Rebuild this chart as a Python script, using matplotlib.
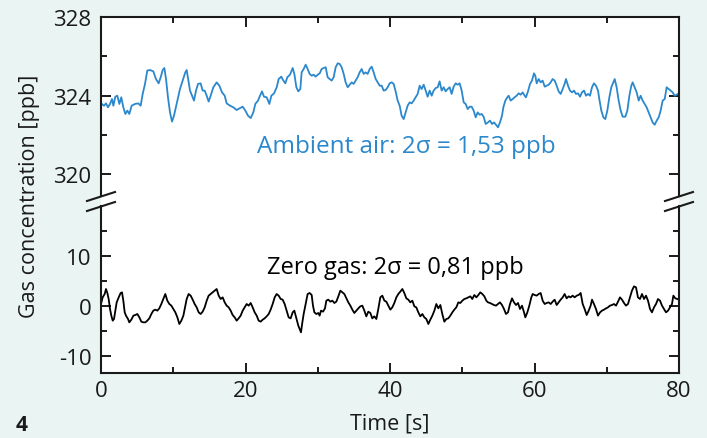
import matplotlib
matplotlib.use("Agg")
import matplotlib.pyplot as plt
from matplotlib.lines import Line2D
from matplotlib.patches import Rectangle

plt.rcParams["font.family"] = ["Open Sans", "DejaVu Sans"]
plt.rcParams["axes.unicode_minus"] = False

# ---- data ----------------------------------------------------------------
ambient_t = [
    0.1, 0.42, 0.69, 0.97, 1.25, 1.52, 1.71, 1.98, 2.26, 2.54, 2.81, 3.09, 3.37, 3.65, 3.92, 4.24, 4.71, 5.17, 5.49, 5.77,
    6.09, 6.41, 6.78, 7.24, 7.61, 7.98, 8.26, 8.54, 8.77, 9.0, 9.27, 9.55, 9.83, 10.1, 10.47, 10.93, 11.3, 11.67, 11.86, 12.09,
    12.32, 12.6, 12.87, 13.15, 13.43, 13.79, 14.07, 14.35, 14.63, 14.9, 15.18, 15.55, 16.01, 16.38, 16.75, 17.12, 17.39, 17.86, 18.32, 18.78,
    19.24, 19.61, 19.98, 20.35, 20.72, 21.08, 21.36, 21.73, 22.01, 22.28, 22.56, 22.93, 23.3, 23.58, 23.95, 24.32, 24.59, 24.96, 25.24, 25.51,
    25.79, 26.16, 26.53,
    26.76, 27.04, 27.31, 27.59, 27.77, 28.05, 28.33, 28.6, 28.88, 29.16, 29.43, 29.71, 29.99, 30.27, 30.54, 30.82, 31.1, 31.37, 31.65, 31.93,
    32.2, 32.48, 32.76, 33.03, 33.31, 33.59, 33.86, 34.14, 34.42, 34.69, 34.97, 35.25, 35.52, 35.8, 36.08, 36.36, 36.63, 36.91, 37.19, 37.46,
    37.74, 38.02, 38.29, 38.57, 38.85, 39.12, 39.4, 39.68, 39.95, 40.23, 40.51, 40.78, 41.06, 41.34, 41.61, 41.89, 42.17, 42.44, 42.72, 43.0,
    43.27, 43.55, 43.83, 44.11, 44.38, 44.66, 44.94, 45.21, 45.49, 45.77, 46.04, 46.32, 46.6, 46.87, 47.15, 47.43, 47.7, 47.98, 48.26, 48.53,
    48.81, 49.09, 49.37, 49.64, 49.92, 50.2, 50.47, 50.75, 51.03, 51.3, 51.58, 51.86, 52.13, 52.41, 52.69, 52.96, 53.24,
    53.56, 53.84, 54.12, 54.39, 54.67, 54.95, 55.22, 55.5, 55.69, 55.96, 56.24, 56.42, 56.7, 56.98, 57.25, 57.53, 57.81, 58.09, 58.36, 58.64,
    58.82, 59.1, 59.38, 59.65, 59.93, 60.11, 60.3, 60.58, 60.85, 61.13, 61.41, 61.68, 61.96, 62.24, 62.51, 62.79, 63.07, 63.34, 63.62, 63.9,
    64.17, 64.36, 64.64, 64.91, 65.19, 65.47, 65.74, 66.02, 66.3, 66.57, 66.85, 67.13, 67.4, 67.68, 67.96, 68.23, 68.51, 68.79, 68.97, 69.25,
    69.53, 69.8, 70.08, 70.36, 70.63, 70.91, 71.1, 71.37, 71.65, 71.93, 72.2, 72.57, 72.85, 73.13, 73.4, 73.59, 73.86, 74.14, 74.42, 74.69,
    74.97, 75.25, 75.52, 75.8, 76.08, 76.35, 76.63, 76.91, 77.19, 77.46, 77.74, 78.02, 78.29, 78.57, 78.85, 79.12, 79.4, 79.68, 79.95,
]
ambient_ppb = [
    323.57, 323.48, 323.60, 323.40, 323.57, 323.82, 323.48, 323.94, 323.99, 323.57, 323.91, 323.40, 323.06, 323.23, 323.06, 323.48, 323.57, 323.60, 323.48, 324.08,
    324.59, 325.27, 325.30, 325.23, 324.84, 324.62, 324.93, 325.30, 325.40, 324.84, 323.91, 323.14, 322.67, 322.97, 323.57, 324.33, 324.76, 325.18, 325.30, 324.76,
    324.25, 323.99, 323.74, 324.25, 324.59, 324.62, 324.25, 324.25, 323.99, 323.69, 323.99, 324.42, 324.67, 324.50, 324.16, 323.99, 323.60, 323.48, 323.40, 323.26,
    323.36, 323.43, 323.23, 322.97, 322.85, 323.14, 323.57, 323.74, 323.99, 324.21, 323.94, 323.91, 323.57, 323.99, 324.11, 324.42, 324.84, 324.96, 324.76, 324.62,
    324.93, 325.06, 325.40,
    325.10, 324.42, 324.21, 324.33, 325.18, 325.35, 325.57, 325.35, 325.10, 325.01, 325.06, 324.96, 325.06, 325.13, 325.35, 325.40, 325.44, 324.93, 324.84, 324.76,
    324.93, 325.44, 325.64, 325.61, 325.44, 325.10, 324.67, 324.42, 324.55, 324.67, 324.59, 324.76, 324.93, 325.18, 325.35, 325.10, 325.18, 325.10, 325.35, 325.47,
    325.18, 324.84, 324.67, 324.50, 324.50, 324.25, 324.28, 324.42, 324.62, 324.67, 324.59, 324.21, 323.74, 323.48, 322.97, 322.80, 323.14, 323.48, 323.65, 323.60,
    323.74, 323.91, 324.08, 324.50, 324.33, 324.55, 324.25, 323.94, 324.25, 323.99, 324.25, 324.38, 324.42, 324.72, 324.25, 324.42, 324.21, 324.33, 324.42, 324.08,
    324.45, 324.62, 324.55, 324.62, 324.25, 323.65, 323.57, 323.31, 323.43, 323.43, 323.23, 322.89, 323.14, 323.02, 323.06, 322.92, 322.55,
    322.63, 322.72, 322.55, 322.63, 322.51, 322.38, 322.63, 322.97, 323.40, 323.74, 323.91, 323.99, 323.74, 323.82, 323.91, 323.99, 324.11, 324.04, 324.16, 323.99,
    323.91, 324.21, 324.59, 324.76, 325.13, 325.01, 324.62, 324.84, 324.67, 324.76, 324.45, 324.50, 324.55, 324.67, 324.84, 324.76, 324.50, 324.21, 324.08, 324.33,
    324.59, 324.84, 324.50, 324.25, 324.16, 324.25, 324.08, 324.11, 323.94, 324.16, 324.25, 323.99, 324.08, 323.99, 324.42, 324.62, 324.50, 324.25, 323.82, 323.23,
    322.89, 322.80, 323.23, 323.91, 324.42, 324.67, 324.84, 324.42, 323.74, 323.23, 322.92, 322.92, 323.23, 323.99, 324.50, 324.67, 324.42, 324.16, 323.74, 323.99,
    323.74, 323.57, 323.40, 323.14, 322.89, 322.63, 322.51, 322.72, 322.89, 323.23, 323.74, 323.82, 324.42, 324.33, 324.25, 324.16, 323.99, 324.04, 324.11,
]

zero_t = [
    0.0, 0.23, 0.51, 0.69, 0.88, 1.06, 1.25, 1.43, 1.62, 1.8, 1.98, 2.17, 2.45, 2.72, 2.91, 3.09, 3.28, 3.46, 3.74, 3.92,
    4.2, 4.48, 4.75, 5.03, 5.31, 5.58, 5.86, 6.14, 6.41, 6.69, 6.97, 7.24, 7.52, 7.8, 8.07, 8.35, 8.63, 8.9, 9.18, 9.46,
    9.74, 10.01, 10.29, 10.57, 10.84, 11.12, 11.4, 11.67, 11.86, 12.13, 12.41, 12.69, 12.96, 13.24, 13.52, 13.79, 14.07, 14.35, 14.63, 14.9,
    15.18, 15.46, 15.73, 16.01, 16.29, 16.56, 16.84, 17.12, 17.39, 17.67, 17.95, 18.22, 18.5, 18.78, 19.05, 19.33, 19.61, 19.89, 20.16, 20.44,
    20.72, 20.99, 21.27, 21.55, 21.82, 22.1, 22.38, 22.65, 22.93, 23.21, 23.48, 23.76, 24.04, 24.31, 24.59, 24.87, 25.14, 25.42, 25.7, 25.97,
    26.25, 26.53,
    26.76, 26.94, 27.13, 27.31, 27.5, 27.68, 27.87, 28.05, 28.33, 28.6, 28.88, 29.16, 29.34, 29.53, 29.8, 30.08, 30.26, 30.45, 30.73, 31.0,
    31.19, 31.46, 31.74, 32.02, 32.3, 32.57, 32.85, 33.13, 33.4, 33.68, 33.96, 34.23, 34.51, 34.79, 35.06, 35.34, 35.62, 35.89, 36.17, 36.45,
    36.72, 37.0, 37.28, 37.55, 37.83, 38.11, 38.38, 38.66, 38.94, 39.22, 39.49, 39.77, 40.05, 40.32, 40.6, 40.88, 41.15, 41.43, 41.71, 41.98,
    42.26, 42.54, 42.81, 43.09, 43.37, 43.64, 43.92, 44.2, 44.48, 44.75, 45.03, 45.31, 45.58, 45.86, 46.14, 46.41, 46.69, 46.97, 47.24, 47.52,
    47.8, 48.07, 48.35, 48.63, 48.9, 49.18, 49.46, 49.73, 50.01, 50.29, 50.56, 50.84, 51.12, 51.39, 51.67, 51.95, 52.23, 52.5, 52.78, 53.06,
    53.33,
    53.56, 53.84, 54.12, 54.39, 54.67, 54.95, 55.22, 55.5, 55.78, 56.05, 56.33, 56.61, 56.89, 57.16, 57.44, 57.72, 57.99, 58.27, 58.55, 58.73,
    59.01, 59.28, 59.56, 59.75, 60.02, 60.3, 60.58, 60.85, 61.13, 61.41, 61.68, 61.96, 62.24, 62.51, 62.79, 63.07, 63.34, 63.62, 63.9, 64.17,
    64.45, 64.73, 65.0, 65.28, 65.56, 65.84, 66.11, 66.39, 66.67, 66.94, 67.22, 67.5, 67.77, 67.96, 68.23, 68.51, 68.79, 69.07, 69.34, 69.62,
    69.9, 70.17, 70.45, 70.73, 71.0, 71.28, 71.56, 71.83, 72.11, 72.39, 72.66, 72.94, 73.22, 73.49, 73.77, 74.05, 74.32, 74.6, 74.88, 75.16,
    75.43, 75.71, 75.99, 76.26, 76.54, 76.82, 77.09, 77.37, 77.65, 77.92, 78.2, 78.48, 78.75, 79.03, 79.22, 79.49, 79.77,
]
zero_ppb = [
    0.4, 1.73, 2.4, 3.4, 2.6, 1.4, -0.6, -1.93, -2.93, -2.6, -0.93, 0.73, 1.73, 2.6, 2.73, 1.07, -1.27, -1.93, -2.6, -3.27,
    -2.73, -1.93, -1.8, -1.6, -2.27, -3.13, -3.27, -3.27, -2.93, -2.47, -1.6, -0.93, -0.73, -0.93, -0.47, 0.4, 1.4, 2.4, 1.07, 0.4,
    0.07, -0.6, -1.27, -2.27, -3.6, -2.93, -1.93, 0.07, 1.4, 2.4, 2.07, 1.27, 0.4, -0.27, -1.27, -1.6, -1.13, -0.27, 1.07, 2.07,
    2.4, 2.73, 3.07, 3.4, 2.07, 1.4, 1.73, 0.73, 0.07, -0.27, -0.93, -1.8, -2.27, -2.93, -2.47, -1.93, -0.93, -0.27, 0.4, 0.07,
    0.6, -0.27, -1.27, -1.93, -2.93, -3.13, -2.73, -2.47, -2.07, -1.6, -0.73, 0.4, 1.73, 2.4, 2.07, 1.4, 1.27, 0.4, -0.93, -2.27,
    -2.47, -1.27,
    -0.93, -1.93, -2.93, -3.93, -4.6, -5.27, -3.27, -1.6, 0.4, 2.4, 2.6, 2.2, 0.07, -1.27, -1.6, -1.4, -1.93, -0.93, -1.13, -0.47,
    1.07, 1.27, 0.87, 1.07, 0.6, 0.87, 1.93, 3.07, 2.73, 2.4, 1.53, 0.73, 0.07, -0.73, -1.4, -0.93, -0.47, -0.07, 0.07, -0.93,
    -2.07, -1.13, -1.4, -2.47, -2.07, -2.6, -0.6, 1.73, 2.07, 1.07, 0.87, 0.07, -0.73, -0.27, 0.6, 1.73, 2.4, 2.87, 3.4, 2.6,
    1.53, 1.27, 0.73, 1.07, -0.07, -0.27, -1.27, -2.07, -1.6, -2.27, -2.6, -3.6, -2.73, -1.93, -0.93, 0.4, -0.47, 0.2, -1.6, -3.13,
    -2.6, -2.47, -1.93, -1.27, -0.73, -0.27, 0.73, 0.6, 1.07, 1.4, 1.53, 1.73, 1.93, 1.4, 2.2, 1.73, 2.2, 2.73, 2.4, 1.93,
    1.07,
    0.73, 0.6, 0.4, 0.2, 0.07, 0.4, 0.73, 0.2, -0.6, -1.6, -1.27, 0.4, 1.53, 0.73, 0.2, 0.6, -0.6, 0.07, -1.27, -2.27,
    -1.27, 0.07, 1.73, 2.4, 2.2, 2.07, 2.4, 2.6, 1.07, 0.4, 0.6, 0.73, 0.4, 0.87, 1.27, 0.2, 0.73, 1.27, 1.73, 2.4,
    1.53, 1.93, 1.73, 2.07, 1.73, 2.07, 2.2, 2.6, 0.4, -0.6, -1.8, -0.93, 0.07, 1.27, 0.4, -0.6, -1.93, -1.27, -0.93, -0.73,
    -0.47, -0.27, 0.07, 0.2, 0.4, 0.07, 0.87, 1.73, 1.27, 0.6, 0.07, 0.4, 1.73, 3.07, 3.93, 3.73, 1.73, 1.4, 2.4, 1.4,
    2.07, 1.07, -0.6, -1.27, -0.27, 0.4, 1.4, 1.07, 0.07, -0.6, -1.27, -0.93, -0.27, 0.4, 2.07, 1.53, 1.4,
]

x_ticks = [0, 20, 40, 60, 80]
top_ticks = [320, 324, 328]
bot_ticks = [-10, 0, 10]

BG = "#eaf4f2"
BLUE = "#2b88cc"
INK = "#1a1a1a"

# ---- layout in pixels of the 707x439 canvas --------------------------------
W, H = 707, 439
def fx(px): return px / W
def fy(py): return 1 - py / H

L, R = 101, 679
fig = plt.figure(figsize=(W / 100, H / 100), dpi=100, facecolor=BG)
ax_top = fig.add_axes([fx(L), fy(197), fx(R) - fx(L), fy(18) - fy(197)])
ax_bot = fig.add_axes([fx(L), fy(374), fx(R) - fx(L), fy(207) - fy(374)])

# white strip between the two panels so the plot area looks continuous
fig.add_artist(Rectangle((fx(L), fy(207)), fx(R) - fx(L), fy(197) - fy(207),
                         transform=fig.transFigure, facecolor="white",
                         edgecolor="none", zorder=-1))

ax_top.plot(ambient_t, ambient_ppb, color=BLUE, lw=1.3)
ax_bot.plot(zero_t, zero_ppb, color="black", lw=1.3)

for ax in (ax_top, ax_bot):
    ax.set_xlim(0, 80)
    ax.set_xticks(x_ticks)
    ax.set_xticks([10, 30, 50, 70], minor=True)
    ax.tick_params(which="both", direction="in", top=True, right=True,
                   width=1.4, colors=INK, labelsize=16)
    ax.tick_params(which="major", length=7, pad=7)
    ax.tick_params(which="minor", length=4.3)
    for s in ax.spines.values():
        s.set_linewidth(1.5)
        s.set_color(INK)

ax_top.set_ylim(318.88, 328)
ax_top.set_yticks(top_ticks)
ax_top.set_yticks([322, 326], minor=True)
ax_top.spines["bottom"].set_visible(False)
ax_top.tick_params(axis="x", which="both", bottom=False, labelbottom=False)

ax_bot.set_ylim(-13.4, 20)
ax_bot.set_yticks(bot_ticks)
ax_bot.set_yticks([-5, 5, 15], minor=True)
ax_bot.spines["top"].set_visible(False)
ax_bot.tick_params(axis="x", which="both", top=False, pad=5)

# break marks on both vertical spines
for xc in (L, R):
    for yc in (197.5, 207.5):
        fig.add_artist(Line2D([fx(xc - 14), fx(xc + 14)], [fy(yc + 4.5), fy(yc - 4.5)],
                              transform=fig.transFigure, color=INK, lw=1.5, zorder=5))

ax_top.text(42.2, 321.43, "Ambient air: 2σ = 1,53 ppb", color=BLUE,
            fontsize=17.5, ha="center", va="center")
ax_bot.text(40.8, 7.8, "Zero gas: 2σ = 0,81 ppb", color="black",
            fontsize=17, ha="center", va="center")

fig.text(fx(30), fy(196), "Gas concentration [ppb]", rotation=90,
         ha="center", va="center", fontsize=15.5, color=INK)
fig.text(fx(390), fy(424), "Time [s]", ha="center", va="center",
         fontsize=15.5, color=INK)
fig.text(fx(22), fy(426), "4", ha="center", va="center",
         fontsize=15, fontweight="bold", color=INK)

fig.savefig("out.png", dpi=100, facecolor=BG)
